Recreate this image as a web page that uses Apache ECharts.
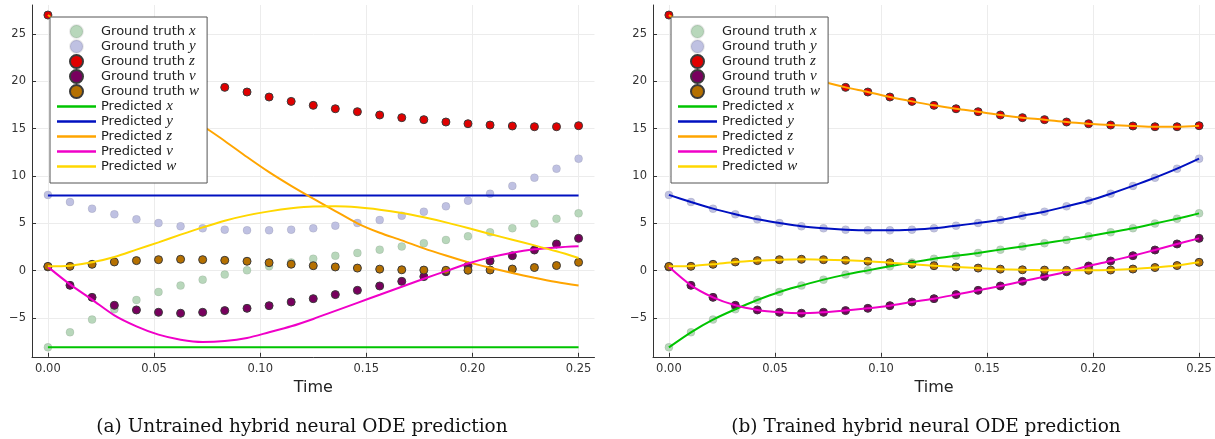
<!DOCTYPE html>
<html>
<head>
<meta charset="utf-8">
<script src="https://cdn.jsdelivr.net/npm/echarts@6/dist/echarts.min.js"></script>
<style>
  html, body { margin: 0; padding: 0; background: #fff; }
  #main { width: 1215px; height: 439px; }
</style>
</head>
<body>
<div id="main"></div>
<script>
// sample times (25 steps over 0 .. 0.25)
const time = [0, 0.0104, 0.0208, 0.0313, 0.0417, 0.0521, 0.0625, 0.0729, 0.0833, 0.0938,
  0.1042, 0.1146, 0.125, 0.1354, 0.1458, 0.1563, 0.1667, 0.1771, 0.1875, 0.1979,
  0.2083, 0.2188, 0.2292, 0.2396, 0.25];

// ground truth (same on both panels)
const truthX = [-8.1, -6.51, -5.17, -4.08, -3.1, -2.25, -1.58, -0.95, -0.42, 0.03, 0.46, 0.86, 1.26,
  1.57, 1.87, 2.22, 2.55, 2.9, 3.25, 3.63, 4.05, 4.48, 4.98, 5.49, 6.05];
const truthY = [8.0, 7.25, 6.55, 5.95, 5.42, 5.03, 4.68, 4.47, 4.33, 4.26, 4.26, 4.33, 4.47,
  4.75, 5.03, 5.35, 5.8, 6.23, 6.79, 7.39, 8.13, 8.95, 9.82, 10.77, 11.83];
const truthZ = [27.0, 25.6, 24.4, 23.3, 22.3, 21.4, 20.6, 19.95, 19.36, 18.87, 18.34, 17.88, 17.46,
  17.1, 16.79, 16.44, 16.16, 15.95, 15.7, 15.52, 15.38, 15.28, 15.2, 15.2, 15.31];
const truthV = [0.4, -1.55, -2.82, -3.66, -4.15, -4.4, -4.5, -4.4, -4.22, -3.98, -3.7, -3.31, -2.96,
  -2.53, -2.08, -1.62, -1.13, -0.63, -0.11, 0.49, 1.02, 1.58, 2.18, 2.82, 3.41];
const truthW = [0.45, 0.46, 0.67, 0.92, 1.06, 1.16, 1.2, 1.16, 1.09, 0.99, 0.84, 0.68, 0.52,
  0.39, 0.27, 0.16, 0.09, 0.06, 0.04, 0.04, 0.07, 0.17, 0.33, 0.54, 0.88];

// (a) untrained prediction
const untrainedX = [-8.1, -8.1, -8.1, -8.1, -8.1, -8.1, -8.1, -8.1, -8.1, -8.1, -8.1, -8.1, -8.1,
  -8.1, -8.1, -8.1, -8.1, -8.1, -8.1, -8.1, -8.1, -8.1, -8.1, -8.1, -8.1];
const untrainedY = [7.95, 7.95, 7.95, 7.95, 7.95, 7.95, 7.95, 7.95, 7.95, 7.95, 7.95, 7.95, 7.95,
  7.95, 7.95, 7.95, 7.95, 7.95, 7.95, 7.95, 7.95, 7.95, 7.95, 7.95, 7.95];
const untrainedZ = [27.0, 25.3, 23.6, 21.9, 20.2, 18.5, 16.9, 15.3, 13.7, 12.0, 10.4, 8.95, 7.6,
  6.3, 5.0, 4.0, 3.2, 2.35, 1.6, 0.9, 0.3, -0.25, -0.75, -1.2, -1.58];
const untrainedV = [0.4, -1.45, -3.06, -4.72, -5.88, -6.76, -7.29, -7.53, -7.43, -7.11, -6.51, -5.88, -5.1,
  -4.25, -3.4, -2.55, -1.7, -0.85, -0.05, 0.75, 1.4, 1.9, 2.25, 2.45, 2.57];
const untrainedW = [0.46, 0.53, 0.88, 1.45, 2.22, 2.99, 3.8, 4.57, 5.28, 5.84, 6.26, 6.58, 6.77,
  6.79, 6.69, 6.44, 6.09, 5.63, 5.1, 4.5, 3.87, 3.27, 2.67, 2.04, 1.34];

// (b) trained prediction: the fitted curves sit on the dots
const trainedX = truthX;
const trainedY = truthY;
const trainedZ = truthZ;
const trainedV = truthV;
const trainedW = [0.46, 0.5, 0.68, 0.92, 1.06, 1.16, 1.2, 1.16, 1.09, 0.99, 0.84, 0.68, 0.52,
  0.39, 0.27, 0.16, 0.09, 0.05, 0.03, 0.03, 0.07, 0.17, 0.33, 0.54, 0.88];

const xTicks = [0, 0.05, 0.1, 0.15, 0.2, 0.25];
const yTicks = [-5, 0, 5, 10, 15, 20, 25];
const captions = ['(a) Untrained hybrid neural ODE prediction', '(b) Trained hybrid neural ODE prediction'];

const vars = ['x', 'y', 'z', 'v', 'w'];
const truthColors = ['#b8d7bb', '#bfc1e2', '#e00000', '#78005e', '#b57000'];
const truthBorders = ['rgba(0,0,0,0.08)', 'rgba(0,0,0,0.08)', '#3a3a3a', '#3a3a3a', '#3a3a3a'];
const predColors = ['#00c400', '#0010c0', '#ffa500', '#f000c8', '#ffd700'];

const pair = (ys) => time.map((t, i) => [t, ys[i]]);

const panels = [
  { left: 32, truth: [truthX, truthY, truthZ, truthV, truthW],
    pred: [untrainedX, untrainedY, untrainedZ, untrainedV, untrainedW], capX: 297 },
  { left: 653, truth: [truthX, truthY, truthZ, truthV, truthW],
    pred: [trainedX, trainedY, trainedZ, trainedV, trainedW], capX: 921 }
];

let chart = echarts.init(document.getElementById('main'));

let grids = [], xAxes = [], yAxes = [], series = [], legends = [], titles = [];
let legendItems = [];
vars.forEach(v => legendItems.push({ name: 'Ground truth ' + v }));
vars.forEach(v => legendItems.push({ name: 'Predicted ' + v, icon: 'path://M0,0H40V2.6H0Z' }));

panels.forEach((p, k) => {
  grids.push({ left: p.left, top: 5, width: 562.5, height: 351.8 });
  xAxes.push({
    type: 'value', gridIndex: k, min: -0.0075, max: 0.2575,
    name: 'Time', nameLocation: 'middle', nameGap: 20,
    nameTextStyle: { fontFamily: 'DejaVu Sans', fontSize: 16, color: '#222' },
    axisLine: { onZero: false, lineStyle: { color: '#333', width: 1 } },
    axisTick: { inside: true, length: 4, customValues: xTicks, lineStyle: { color: '#333' } },
    axisLabel: { customValues: xTicks, margin: 6, fontFamily: 'DejaVu Sans', fontSize: 11.5, color: '#333',
      formatter: v => v.toFixed(2) },
    splitLine: { show: true, lineStyle: { color: '#ececec', width: 1 } }
  });
  yAxes.push({
    type: 'value', gridIndex: k, min: -9.1, max: 28.06,
    axisLine: { show: true, onZero: false, lineStyle: { color: '#333', width: 1 } },
    axisTick: { show: true, inside: true, length: 4, customValues: yTicks, lineStyle: { color: '#333' } },
    axisLabel: { customValues: yTicks, margin: 6, fontFamily: 'DejaVu Sans', fontSize: 11.5, color: '#333',
      formatter: v => v < 0 ? '\u2212' + (-v) : String(v) },
    splitLine: { show: true, lineStyle: { color: '#ececec', width: 1 } }
  });
  vars.forEach((v, i) => {
    series.push({
      name: 'Ground truth ' + v, type: 'scatter', xAxisIndex: k, yAxisIndex: k,
      symbolSize: 8, z: 2,
      itemStyle: { color: truthColors[i], borderColor: truthBorders[i], borderWidth: 1, opacity: 1 },
      data: pair(p.truth[i])
    });
  });
  vars.forEach((v, i) => {
    series.push({
      name: 'Predicted ' + v, type: 'line', xAxisIndex: k, yAxisIndex: k,
      symbol: 'none', smooth: 0.3, z: 3,
      lineStyle: { color: predColors[i], width: 2 },
      itemStyle: { color: predColors[i] },
      data: pair(p.pred[i])
    });
  });
  legends.push({
    orient: 'vertical', left: p.left + 18, top: 17,
    backgroundColor: '#fff', borderColor: '#555', borderWidth: 1,
    padding: [7, 8, 9, 7], itemWidth: 39, itemHeight: 13, itemGap: 0,
    data: legendItems, selectedMode: false,
    formatter: name => {
      let parts = name.split(' ');
      let last = parts.pop();
      return '{a|' + parts.join(' ') + ' }{m|' + last + '}';
    },
    textStyle: {
      fontSize: 13, lineHeight: 14,
      rich: {
        a: { fontFamily: 'DejaVu Sans', fontSize: 13, color: '#222', lineHeight: 14 },
        m: { fontFamily: 'Liberation Serif', fontStyle: 'italic', fontSize: 15, color: '#222', lineHeight: 14 }
      }
    }
  });
  titles.push({
    text: captions[k], left: p.capX, top: 413, textAlign: 'center',
    textStyle: { fontFamily: 'DejaVu Serif', fontSize: 18.5, fontWeight: 'normal', color: '#111' }
  });
});

let option = {
  backgroundColor: '#fff',
  animation: false,
  title: titles,
  legend: legends,
  grid: grids,
  xAxis: xAxes,
  yAxis: yAxes,
  series: series
};
chart.setOption(option);
</script>
</body>
</html>
